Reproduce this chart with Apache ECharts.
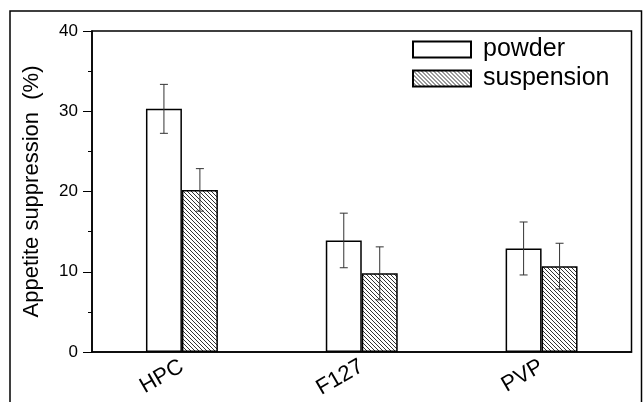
<!DOCTYPE html>
<html>
<head>
<meta charset="utf-8">
<script src="https://cdn.jsdelivr.net/npm/echarts@6/dist/echarts.min.js"></script>
<style>html,body{margin:0;padding:0;background:#fff;}#c{width:643px;height:402px;}</style>
</head>
<body>
<div id="c"></div>
<script>
const categories = ['HPC', 'F127', 'PVP'];
const powder = [30.3, 13.9, 12.9];
const powderErr = [3.05, 3.4, 3.3];
const suspension = [20.2, 9.8, 10.7];
const suspensionErr = [2.65, 3.3, 2.85];
const yTicks = [0, 10, 20, 30, 40];

function hatch() {
  const c = document.createElement('canvas');
  c.width = 4; c.height = 4;
  const ctx = c.getContext('2d');
  ctx.fillStyle = '#fff'; ctx.fillRect(0, 0, 4, 4);
  ctx.strokeStyle = '#333'; ctx.lineWidth = 1;
  ctx.beginPath();
  ctx.moveTo(-1, -1); ctx.lineTo(5, 5);
  ctx.moveTo(-1, 3); ctx.lineTo(1, 5);
  ctx.moveTo(3, -1); ctx.lineTo(5, 1);
  ctx.stroke();
  return c;
}

const font = 'Liberation Sans, Arial, sans-serif';
const chart = echarts.init(document.getElementById('c'), null, {renderer: 'canvas'});

function errSeries(vals, errs, side) {
  return {
    type: 'custom',
    z: 10,
    silent: true,
    data: vals.map((v, i) => [i, v, errs[i]]),
    renderItem: function (params, api) {
      const i = api.value(0), v = api.value(1), e = api.value(2);
      const band = api.size([1, 0])[0];
      const off = side * band * 0.1;
      const top = api.coord([i, v + e]);
      const bot = api.coord([i, v - e]);
      const x = top[0] + off;
      const cap = 4;
      const st = {stroke: '#333', lineWidth: 1};
      return {
        type: 'group',
        children: [
          {type: 'line', shape: {x1: x, y1: top[1], x2: x, y2: bot[1]}, style: st},
          {type: 'line', shape: {x1: x - cap, y1: top[1], x2: x + cap, y2: top[1]}, style: st},
          {type: 'line', shape: {x1: x - cap, y1: bot[1], x2: x + cap, y2: bot[1]}, style: st}
        ]
      };
    }
  };
}

chart.setOption({
  animation: false,
  backgroundColor: '#fff',
  graphic: [{
    type: 'rect',
    shape: {x: 10, y: 11, width: 631.5, height: 420},
    style: {fill: 'none', stroke: '#000', lineWidth: 1.5},
    silent: true
  }],
  grid: {left: 92, right: 11.5, top: 31, bottom: 50, show: true, borderColor: '#000', borderWidth: 1.5, backgroundColor: 'transparent'},
  legend: {
    left: 412, top: 37, orient: 'vertical', padding: 0,
    itemWidth: 58, itemHeight: 16, itemGap: 4,
    icon: 'rect',
    textStyle: {fontFamily: font, fontSize: 25, color: '#000', padding: [0, 0, 0, 7]},
    data: ['powder', 'suspension']
  },
  xAxis: {
    type: 'category',
    data: categories,
    axisLine: {lineStyle: {color: '#000', width: 1.5}},
    axisTick: {show: false},
    axisLabel: {rotate: 30, fontFamily: font, fontSize: 22, color: '#000', margin: 13}
  },
  yAxis: {
    type: 'value',
    min: yTicks[0], max: yTicks[yTicks.length - 1], interval: 10,
    name: 'Appetite suppression  (%)',
    nameLocation: 'middle', nameGap: 49,
    nameTextStyle: {fontFamily: font, fontSize: 22, color: '#000'},
    axisLine: {show: true, lineStyle: {color: '#000', width: 1.5}},
    axisTick: {show: true, length: 9, lineStyle: {color: '#000', width: 1}},
    minorTick: {show: true, splitNumber: 2, length: 4, lineStyle: {color: '#000', width: 1}},
    splitLine: {show: false},
    axisLabel: {fontFamily: font, fontSize: 17, color: '#000', margin: 14}
  },
  series: [
    {
      name: 'powder', type: 'bar', data: powder,
      barWidth: '20%', barGap: '0%',
      itemStyle: {color: '#fff', borderColor: '#000', borderWidth: 1.5}
    },
    {
      name: 'suspension', type: 'bar', data: suspension,
      barWidth: '20%', barGap: '0%',
      itemStyle: {color: {image: hatch(), repeat: 'repeat'}, borderColor: '#000', borderWidth: 1.5}
    },
    errSeries(powder, powderErr, -1),
    errSeries(suspension, suspensionErr, 1)
  ]
});
</script>
</body>
</html>
